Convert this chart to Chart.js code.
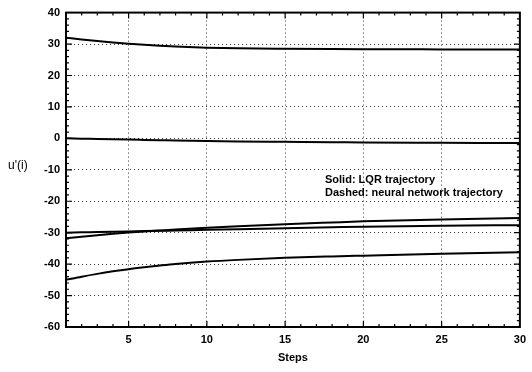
<!DOCTYPE html>
<html>
<head>
<meta charset="utf-8">
<script src="https://cdn.jsdelivr.net/npm/chart.js@4"></script>
<style>
  body { margin: 0; background: #fff; }
  #wrap { width: 532px; height: 372px; }
</style>
</head>
<body>
<div id="wrap"><canvas id="cht" width="532" height="372"></canvas></div>
<script>
const steps = [1, 2, 3, 4, 5, 6, 7, 8, 10, 12, 15, 18, 20, 25, 30];

// the five u'(i) trajectories
const traj1 = [32.0, 31.45, 30.95, 30.5, 30.1, 29.75, 29.45, 29.2, 28.85, 28.65, 28.5, 28.4, 28.35, 28.3, 28.25];
const traj2 = [0.0, -0.1, -0.2, -0.3, -0.4, -0.5, -0.6, -0.7, -0.8, -1.0, -1.1, -1.2, -1.3, -1.4, -1.5];
const traj3 = [-30.0, -29.9, -29.8, -29.7, -29.6, -29.5, -29.4, -29.3, -29.1, -28.9, -28.6, -28.3, -28.1, -27.8, -27.6];
const traj4 = [-31.8, -31.3, -30.8, -30.35, -29.95, -29.6, -29.3, -29.0, -28.45, -27.95, -27.3, -26.75, -26.4, -25.8, -25.3];
const traj5 = [-45.0, -44.0, -43.1, -42.3, -41.6, -41.0, -40.45, -39.95, -39.2, -38.65, -38.0, -37.55, -37.3, -36.7, -36.2];

const xTicks = [5, 10, 15, 20, 25, 30];
const yTicks = [-60, -50, -40, -30, -20, -10, 0, 10, 20, 30, 40];
const notes = ['Solid: LQR trajectory', 'Dashed: neural network trajectory'];

function pts(ys) {
    return steps.map(function(s, i) { return { x: s, y: ys[i] }; });
}

const series = [traj1, traj2, traj3, traj4, traj5].map(function(ys, i) {
    return {
        label: 'u' + (i + 1),
        data: pts(ys),
        borderColor: '#000',
        borderWidth: 2,
        pointRadius: 0,
        cubicInterpolationMode: 'monotone',
        fill: false
    };
});

// inward ticks, frame, in-plot notes and horizontal y title
const decor = {
    id: 'decor',
    afterDraw(chart) {
        const c = chart.ctx, a = chart.chartArea;
        const xs = chart.scales.x, ys = chart.scales.y;
        c.save();
        c.strokeStyle = '#000';
        c.lineWidth = 1.2;
        c.beginPath();
        for (let s = 2; s < 30; s++) {
            const px = xs.getPixelForValue(s);
            const len = s % 5 === 0 ? 6 : 3;
            c.moveTo(px, a.bottom); c.lineTo(px, a.bottom - len);
            c.moveTo(px, a.top); c.lineTo(px, a.top + len);
        }
        for (let v = -58; v < 40; v += 2) {
            const py = ys.getPixelForValue(v);
            const len = v % 10 === 0 ? 6 : 3;
            c.moveTo(a.left, py); c.lineTo(a.left + len, py);
            c.moveTo(a.right, py); c.lineTo(a.right - len, py);
        }
        c.stroke();
        c.lineWidth = 2;
        c.strokeRect(a.left, a.top, a.right - a.left, a.bottom - a.top);

        c.fillStyle = '#000';
        c.font = 'bold 11px "Liberation Sans", Arial, sans-serif';
        c.textBaseline = 'middle';
        c.textAlign = 'left';
        c.fillText(notes[0], 325, 180);
        c.fillText(notes[1], 325, 193);
        c.font = '12px "Liberation Sans", Arial, sans-serif';
        c.fillText("u'(i)", 8, 166);
        c.textAlign = 'center';
        c.font = 'bold 11px "Liberation Sans", Arial, sans-serif';
        c.fillText('Steps', (a.left + a.right) / 2, 358);
        c.restore();
    }
};

new Chart(document.getElementById('cht'), {
    type: 'line',
    data: { datasets: series },
    options: {
        responsive: false,
        animation: false,
        layout: { padding: { top: 7, right: 9, left: 0, bottom: 0 } },
        plugins: { legend: { display: false }, tooltip: { enabled: false } },
        scales: {
            x: {
                type: 'linear',
                min: 1,
                max: 30,
                afterBuildTicks: function(s) { s.ticks = xTicks.map(function(v) { return { value: v }; }); },
                afterFit: function(s) { s.height = 45; },
                border: { display: false, dash: [1, 3] },
                grid: {
                    drawTicks: false,
                    color: function(ctx) { return ctx.tick && ctx.tick.value === 30 ? 'rgba(0,0,0,0)' : '#333'; },
                    lineWidth: 1
                },
                ticks: {
                    color: '#000',
                    font: { family: '"Liberation Sans", Arial, sans-serif', size: 11, weight: 'bold' },
                    padding: 6,
                    maxRotation: 0
                }
            },
            y: {
                min: -60,
                max: 40,
                afterBuildTicks: function(s) { s.ticks = yTicks.map(function(v) { return { value: v }; }); },
                afterFit: function(s) { s.width = 66; },
                border: { display: false, dash: [1, 3] },
                grid: {
                    drawTicks: false,
                    color: function(ctx) {
                        const v = ctx.tick && ctx.tick.value;
                        return (v === 40 || v === -60) ? 'rgba(0,0,0,0)' : '#333';
                    },
                    lineWidth: 1
                },
                ticks: {
                    color: '#000',
                    font: { family: '"Liberation Sans", Arial, sans-serif', size: 11, weight: 'bold' },
                    padding: 6
                }
            }
        }
    },
    plugins: [decor]
});
</script>
</body>
</html>
